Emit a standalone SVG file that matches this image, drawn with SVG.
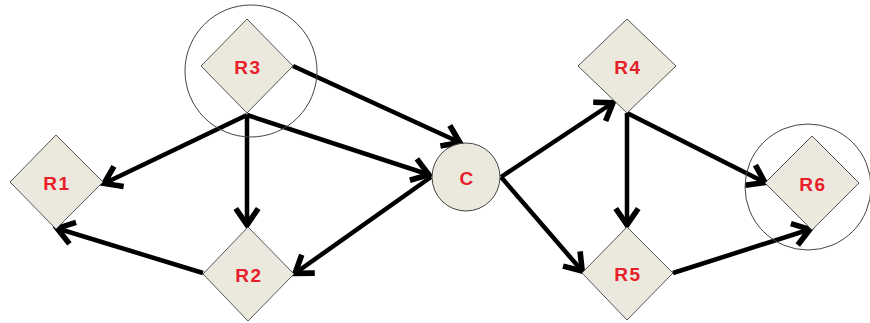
<svg xmlns="http://www.w3.org/2000/svg" width="870" height="323" viewBox="0 0 870 323">
<defs>
<marker id="arr" markerUnits="userSpaceOnUse" markerWidth="30" markerHeight="30" viewBox="-16 -12 20 24" refX="0" refY="0" orient="auto">
<path d="M-14,-9 L-1,0 L-14,9" fill="none" stroke="#000" stroke-width="4.5" stroke-linejoin="miter"/>
</marker>
</defs>
<style>
.dia{fill:#ebe9de;stroke:#555;stroke-width:1}
.ring{fill:none;stroke:#444;stroke-width:1}
.edge{fill:none;stroke:#000;stroke-width:4.5;marker-end:url(#arr)}
.lbl{font-family:"Liberation Sans",Arial,sans-serif;font-weight:bold;font-size:19px;fill:#e8202a;text-anchor:middle;letter-spacing:1.5px}
</style>
<rect width="870" height="323" fill="#fff"/>
<g id="connectors">
<line class="edge" x1="293" y1="66" x2="461" y2="143"/>
<line class="edge" x1="247" y1="115" x2="103" y2="184"/>
<line class="edge" x1="247" y1="115" x2="247" y2="226"/>
<line class="edge" x1="247" y1="115" x2="430" y2="175"/>
<line class="edge" x1="431" y1="177" x2="294" y2="274"/>
<line class="edge" x1="203" y1="273" x2="56" y2="228"/>
<line class="edge" x1="501" y1="177" x2="614" y2="102"/>
<line class="edge" x1="501" y1="177" x2="583" y2="272"/>
<line class="edge" x1="627" y1="113" x2="627" y2="226"/>
<line class="edge" x1="627" y1="113" x2="766" y2="183"/>
<line class="edge" x1="673" y1="273" x2="811" y2="229"/>
</g>
<g id="R3">
<circle class="ring" cx="251" cy="71" r="66"/>
<polygon class="dia" points="247,19 293,66 247,113 201,66"/>
<text class="lbl" x="248" y="74">R3</text>
</g>
<g id="R1">
<polygon class="dia" points="56,135 103,182 56,229 10,182"/>
<text class="lbl" x="57" y="190">R1</text>
</g>
<g id="R2">
<polygon class="dia" points="248,227 294,274 248,321 203,274"/>
<text class="lbl" x="249" y="282">R2</text>
</g>
<g id="C">
<circle cx="466" cy="177" r="34" fill="#ebe9de" stroke="#444" stroke-width="1"/>
<text class="lbl" x="467" y="185">C</text>
</g>
<g id="R4">
<polygon class="dia" points="627,19 676,66 627,113 578,66"/>
<text class="lbl" x="628" y="74">R4</text>
</g>
<g id="R5">
<polygon class="dia" points="627,227 673,273 627,320 582,273"/>
<text class="lbl" x="628" y="281">R5</text>
</g>
<g id="R6">
<circle class="ring" cx="808" cy="187" r="63"/>
<polygon class="dia" points="812,136 859,183 812,230 765,183"/>
<text class="lbl" x="813" y="191">R6</text>
</g>
</svg>
